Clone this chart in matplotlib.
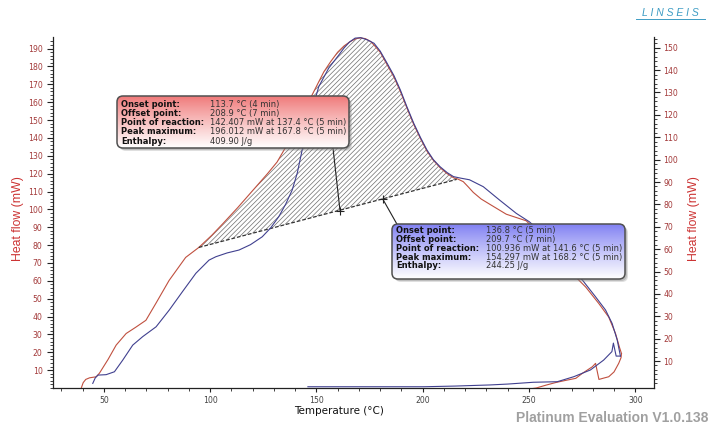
import numpy as np
import matplotlib
matplotlib.use("Agg")
import matplotlib.pyplot as plt
from matplotlib.patches import FancyBboxPatch
from matplotlib.colors import LinearSegmentedColormap

# ---------------- data ----------------
# red curve (left axis), heating part
red_heat_t = [39.4, 40.3, 41.5, 43.3, 46.5, 48.0, 52.0, 55.8, 60.5, 65.0, 69.8, 74.5, 80.7, 88.5,
              94.7, 100.8, 106.0, 113.0, 120.0, 127.0, 131.5, 135.3, 139.5, 143.5, 147.4, 150.5,
              153.5, 156.7, 160.0, 163.0, 166.0, 168.5, 170.7, 173.0, 175.5, 177.1, 180.0, 183.3,
              186.5, 189.5, 192.5, 195.8, 199.0, 202.0, 205.0, 208.2, 211.5, 214.5, 216.5, 219.1,
              221.5, 223.8, 227.5, 231.5, 239.3, 248.7, 260.0, 272.0, 276.7, 282.9, 287.5, 290.7,
              292.5, 293.5]
red_heat_v = [0.0, 3.0, 4.8, 5.7, 6.3, 8.4, 16.0, 24.0, 30.5, 34.0, 37.9, 47.4, 60.2, 73.1,
              78.7, 85.5, 92.0, 101.0, 110.5, 120.0, 126.5, 134.3, 144.0, 153.5, 162.7, 170.0,
              177.0, 182.7, 188.0, 191.5, 194.0, 195.5, 196.0, 195.6, 194.0, 192.0, 188.0, 180.9,
              174.0, 166.0, 157.0, 147.5, 139.5, 132.6, 127.5, 123.3, 120.0, 117.7, 117.0, 115.5,
              112.5, 109.5, 105.8, 102.9, 97.3, 93.6, 80.0, 62.1, 56.5, 47.2, 39.7, 30.5,
              23.0, 19.3]
# red curve, cooling part
red_cool_t = [293.5, 293.3, 292.2, 290.0, 287.5, 285.0, 282.9, 281.3, 279.8, 275.1, 272.0,
              267.0, 262.7, 258.0, 253.4, 245.0, 230.0, 200.0, 150.0]
red_cool_v = [19.3, 17.0, 13.8, 9.0, 6.3, 5.5, 4.8, 13.8, 11.9, 8.2, 5.4,
              4.2, 3.1, 1.6, 0.0, -1.5, -2.5, -3.0, -3.0]

# blue curve (right axis), heating part
blue_heat_t = [44.8, 46.0, 47.2, 51.1, 55.0, 58.9, 63.6, 68.3, 74.6, 80.8, 87.0, 93.3, 99.5,
               102.7, 108.0, 113.6, 119.0, 124.5, 128.5, 132.3, 135.5, 138.6, 141.0, 143.3,
               146.4, 148.5, 151.1, 155.8, 160.5, 163.1, 165.5, 168.2, 170.9, 174.0, 177.1,
               180.0, 183.3, 186.5, 189.5, 192.5, 195.8, 199.0, 202.0, 205.0, 208.2, 211.5,
               214.5, 218.0, 222.0, 228.5, 236.2, 244.0, 250.2, 262.0, 273.4, 275.1, 281.3, 286.0,
               289.1, 291.5, 293.0]
blue_heat_v = [0.0, 2.5, 3.7, 3.9, 5.2, 10.4, 17.1, 20.9, 25.3, 32.8, 41.0, 49.2, 55.1,
               56.6, 58.3, 59.6, 62.0, 65.5, 69.5, 74.5, 80.0, 86.4, 94.0, 104.3,
               117.4, 124.0, 132.6, 140.9, 146.7, 150.0, 152.5, 154.3, 154.5, 153.5, 152.0,
               148.5, 143.0, 137.5, 131.1, 123.8, 116.2, 109.8, 104.3, 100.0, 96.8, 94.2,
               92.4, 91.7, 91.0, 87.9, 81.9, 76.0, 72.2, 62.0, 48.0, 46.2, 38.7, 32.8,
               26.8, 19.4, 12.2]
# blue curve, cooling part
blue_cool_t = [293.0, 291.0, 289.7, 289.0, 285.1, 278.9, 271.1, 263.3, 252.0, 240.0, 231.5,
               215.0, 200.5, 175.0, 146.0]
blue_cool_v = [12.2, 12.2, 18.0, 14.2, 10.4, 6.0, 3.0, 0.75, 0.5, -0.3, -0.7,
               -1.2, -1.5, -1.5, -1.5]

# integration baseline (left axis) and reaction markers
base_t = [94.7, 216.0]
base_v = [78.7, 116.8]
marker_t = [161.1, 181.3]
marker_v = [99.3, 105.6]

# annotation texts
box_labels = ["Onset point:", "Offset point:", "Point of reaction:", "Peak maximum:", "Enthalpy:"]
red_values = ["113.7 \u00b0C (4 min)", "208.9 \u00b0C (7 min)",
              "142.407 mW at 137.4 \u00b0C (5 min)", "196.012 mW at 167.8 \u00b0C (5 min)",
              "409.90 J/g"]
blue_values = ["136.8 \u00b0C (5 min)", "209.7 \u00b0C (7 min)",
               "100.936 mW at 141.6 \u00b0C (5 min)", "154.297 mW at 168.2 \u00b0C (5 min)",
               "244.25 J/g"]

left_ticks = list(range(10, 200, 10))
right_ticks = list(range(10, 160, 10))
x_ticks = [50, 100, 150, 200, 250, 300]

# ---------------- figure ----------------
W, H = 711, 425
fig = plt.figure(figsize=(W / 100, H / 100), dpi=100)
fig.patch.set_facecolor("white")
plt.rcParams["hatch.linewidth"] = 0.5

ax = fig.add_axes([53 / W, 1 - 388 / H, (654 - 53) / W, (388 - 37) / H])
ax2 = ax.twinx()

RED = "#c0503f"
BLUE = "#40408f"
TICKRED = "#a33a3a"

ax.plot(red_heat_t, red_heat_v, color=RED, lw=0.8, zorder=3)
ax.plot(red_cool_t, red_cool_v, color=RED, lw=0.8, zorder=3)
ax2.plot(blue_heat_t, blue_heat_v, color=BLUE, lw=0.8, zorder=3)
ax2.plot(blue_cool_t, blue_cool_v, color=BLUE, lw=0.8, zorder=3)

# hatched area between red curve and baseline
tg = np.linspace(base_t[0], base_t[1], 400)
upper = np.interp(tg, red_heat_t, red_heat_v)
lower = np.interp(tg, base_t, base_v)
ax.fill_between(tg, lower, upper, facecolor="none", edgecolor="#6e6e6e", hatch="///////",
                linewidth=0, zorder=2)
ax.plot(base_t, base_v, color="#333333", lw=0.9, ls=(0, (3, 1.5)), zorder=4)
ax.plot(marker_t, marker_v, ls="none", marker="+", ms=6, mew=0.8, color="#222222", zorder=5)

ax.set_xlim(26.1, 308.8)
ax.set_ylim(0, 196.5)
ax2.set_ylim(-2.06, 154.8)

for a in (ax, ax2):
    a.spines["top"].set_visible(False)
    for s in a.spines.values():
        s.set_linewidth(0.9)
        s.set_color("#222222")
ax.spines["right"].set_visible(False)
ax2.spines["left"].set_visible(False)
ax2.spines["bottom"].set_visible(False)

ax.set_yticks(left_ticks)
ax.set_yticks(np.arange(0, 196, 2), minor=True)
ax2.set_yticks(right_ticks)
ax2.set_yticks(np.arange(0, 155, 2), minor=True)
ax.set_xticks(x_ticks)
ax.set_xticks(np.arange(30, 310, 10), minor=True)

ax.tick_params(axis="y", which="major", direction="out", length=4, width=0.8, colors="#222222",
               labelcolor=TICKRED, labelsize=5.6, pad=3.5)
ax.tick_params(axis="y", which="minor", direction="out", length=2, width=0.6, colors="#222222")
ax2.tick_params(axis="y", which="major", direction="out", length=4, width=0.8, colors="#222222",
                labelcolor=TICKRED, labelsize=5.6, pad=2.7)
ax2.tick_params(axis="y", which="minor", direction="out", length=2, width=0.6, colors="#222222")
ax.tick_params(axis="x", which="major", direction="out", length=3, width=0.8, colors="#222222",
               labelcolor="#444444", labelsize=5.6, pad=3)
ax.tick_params(axis="x", which="minor", direction="out", length=2, width=0.6, colors="#222222")

# ---------------- overlay (pixel coords, y down) ----------------
ov = fig.add_axes([0, 0, 1, 1], zorder=10)
ov.set_xlim(0, W)
ov.set_ylim(H, 0)
ov.axis("off")
ov.patch.set_alpha(0)


def draw_box(x0, y0, x1, y1, top_rgb, values, lab_x, val_x, rows):
    for off, al in ((3, 0.25), (2, 0.35)):
        sh = FancyBboxPatch((x0 + off, y0 + off), x1 - x0, y1 - y0,
                            boxstyle="round,pad=0,rounding_size=6",
                            facecolor="#808080", edgecolor="none", alpha=al, zorder=1)
        ov.add_patch(sh)
    base = FancyBboxPatch((x0, y0), x1 - x0, y1 - y0, boxstyle="round,pad=0,rounding_size=6",
                          facecolor="white", edgecolor="none", zorder=1.5)
    ov.add_patch(base)
    cmap = LinearSegmentedColormap.from_list("g", [top_rgb, (1, 1, 1)])
    grad = np.linspace(0, 1, 200)[:, None] ** 0.9
    im = ov.imshow(grad, cmap=cmap, extent=(x0, x1, y1, y0), origin="upper",
                   aspect="auto", zorder=2, interpolation="bilinear")
    im.set_clip_path(base)
    border = FancyBboxPatch((x0, y0), x1 - x0, y1 - y0, boxstyle="round,pad=0,rounding_size=6",
                            facecolor="none", edgecolor="#505050", lw=1.1, zorder=3)
    ov.add_patch(border)
    for lab, val, yy in zip(box_labels, values, rows):
        ov.text(lab_x, yy, lab, fontsize=6.0, fontweight="bold", color="#111111",
                va="center", ha="left", zorder=4, family="DejaVu Sans")
        ov.text(val_x, yy, val, fontsize=6.0, color="#333333",
                va="center", ha="left", zorder=4, family="DejaVu Sans")


draw_box(117, 96, 349, 148, (0.94, 0.47, 0.47), red_values, 121, 209.5,
         [104.0, 113.3, 122.5, 131.7, 141.0])
draw_box(392, 224, 625, 279, (0.50, 0.50, 0.95), blue_values, 396.5, 485.5,
         [230.7, 239.5, 248.5, 257.3, 266.0])

ov.set_xlim(0, W)
ov.set_ylim(H, 0)

# leader lines from boxes to markers
ax.annotate("", xy=(marker_t[0], marker_v[0]), xytext=(333, H - 148), textcoords="figure pixels",
            arrowprops=dict(arrowstyle="-", lw=0.8, color="#222222", shrinkA=0, shrinkB=0))
ax.annotate("", xy=(marker_t[1], marker_v[1]), xytext=(398, H - 226), textcoords="figure pixels",
            arrowprops=dict(arrowstyle="-", lw=0.8, color="#222222", shrinkA=0, shrinkB=0))

# axis labels and captions
ov.text(18.5, 219, "Heat flow (mW)", rotation=90, fontsize=8.8, color="#cc3333",
        ha="center", va="center", family="Liberation Sans")
ov.text(694, 219, "Heat flow (mW)", rotation=90, fontsize=8.8, color="#cc3333",
        ha="center", va="center", family="Liberation Sans")
ov.text(339, 411, "Temperature (\u00b0C)", fontsize=7.5, color="#111111",
        ha="center", va="center", family="DejaVu Sans")
ov.text(708, 418, "Platinum Evaluation V1.0.138", fontsize=10, fontweight="bold",
        color="#a0a0a0", ha="right", va="center", family="Liberation Sans")
ov.text(670, 13, "L I N S E I S", fontsize=7.5, style="italic", color="#3d9cc4",
        ha="center", va="center", family="Liberation Sans")
ov.plot([636, 705], [19, 19], color="#3d9cc4", lw=0.7)
ov.set_xlim(0, W)
ov.set_ylim(H, 0)

fig.savefig("out.png", dpi=100)
